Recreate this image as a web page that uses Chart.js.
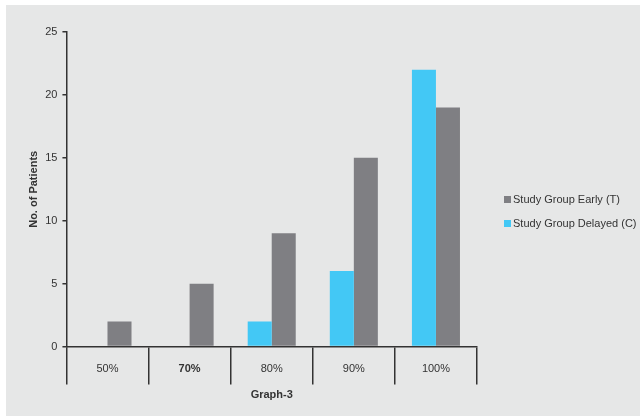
<!DOCTYPE html>
<html>
<head>
<meta charset="utf-8">
<script src="https://cdn.jsdelivr.net/npm/chart.js@4/dist/chart.umd.min.js"></script>
<style>
  html, body { margin: 0; padding: 0; background: #ffffff; }
  #wrap { position: absolute; left: 6px; top: 5px; width: 634px; height: 411px; background: #e6e7e7; }
</style>
</head>
<body>
<div id="wrap"><canvas id="c" width="634" height="411"></canvas></div>
<script>
// Percentage categories and patient counts per study group
const categories = ['50%', '70%', '80%', '90%', '100%'];
const delayedCounts = [0, 0, 2, 6, 22];   // Study Group Delayed (C)
const earlyCounts = [2, 5, 9, 15, 19];    // Study Group Early (T)
const yTicks = [0, 5, 10, 15, 20, 25];
const seriesNames = ['Study Group Delayed (C)', 'Study Group Early (T)'];

const FONT = '"Liberation Sans", Arial, sans-serif';
const INK = '#333333';
const GREY = '#7f7f83';
const CYAN = '#43c8f5';

// Legend drawn at the right, centred on the canvas height, Early listed first
const sideLegend = {
  id: 'sideLegend',
  afterDraw(chart) {
    const ctx = chart.ctx;
    const ds = chart.data.datasets.slice().reverse();
    const x = chart.chartArea.right + 27;
    const midY = chart.height / 2 + 1;
    ctx.save();
    ctx.font = '11px ' + FONT;
    ctx.textBaseline = 'middle';
    ctx.textAlign = 'left';
    ds.forEach((d, i) => {
      const y = midY - 12 + i * 24;
      ctx.fillStyle = d.backgroundColor;
      ctx.fillRect(x, y - 3.5, 7, 7);
      ctx.fillStyle = INK;
      ctx.fillText(d.label, x + 9, y);
    });
    ctx.restore();
  }
};

new Chart(document.getElementById('c'), {
  type: 'bar',
  data: {
    labels: categories,
    datasets: [
      { label: seriesNames[0], data: delayedCounts, backgroundColor: CYAN, borderWidth: 0 },
      { label: seriesNames[1], data: earlyCounts, backgroundColor: GREY, borderWidth: 0 }
    ]
  },
  options: {
    responsive: false,
    animation: false,
    categoryPercentage: 0.585,
    barPercentage: 1,
    layout: { padding: { top: 27, right: 163, bottom: 14, left: 21 } },
    plugins: {
      legend: { display: false },
      tooltip: { enabled: false }
    },
    scales: {
      x: {
        offset: true,
        grid: {
          offset: true,
          drawOnChartArea: false,
          drawTicks: true,
          tickLength: 38,
          color: INK,
          lineWidth: 1.5
        },
        border: { display: true, color: INK, width: 1.5 },
        ticks: {
          padding: -22,
          color: INK,
          font: (ctx) => ({ family: FONT, size: 11, weight: ctx.index === 1 ? 'bold' : 'normal' })
        },
        title: {
          display: true,
          text: 'Graph-3',
          color: INK,
          font: { family: FONT, size: 11, weight: 'bold' },
          padding: { top: 35, bottom: 0 }
        }
      },
      y: {
        min: 0,
        max: 25,
        afterBuildTicks(scale) { scale.ticks = yTicks.map(v => ({ value: v })); },
        grid: {
          drawOnChartArea: false,
          drawTicks: true,
          tickLength: 4,
          color: INK,
          lineWidth: 1.5
        },
        border: { display: true, color: INK, width: 1.5 },
        ticks: {
          padding: 5,
          color: INK,
          font: { family: FONT, size: 11 }
        },
        title: {
          display: true,
          text: 'No. of Patients',
          color: INK,
          font: { family: FONT, size: 11, weight: 'bold' },
          padding: { top: 0, bottom: 0 }
        }
      }
    }
  },
  plugins: [sideLegend]
});
</script>
</body>
</html>
